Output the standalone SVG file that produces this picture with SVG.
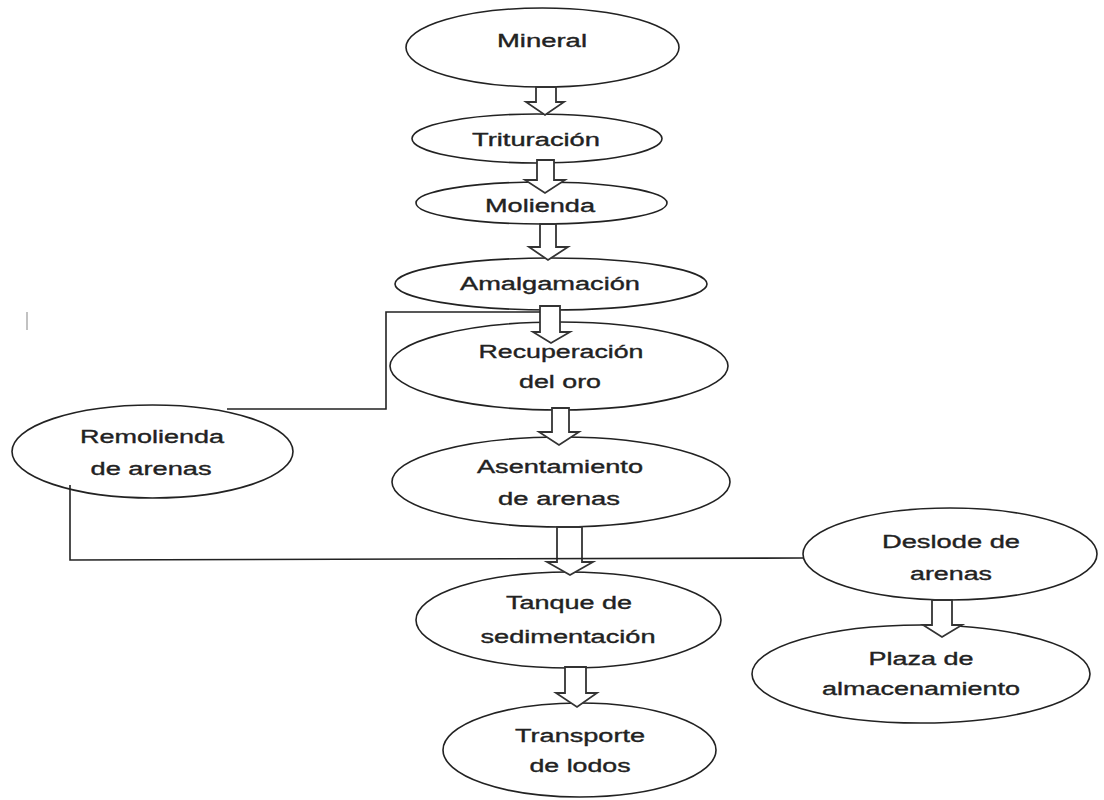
<svg xmlns="http://www.w3.org/2000/svg" width="1104" height="800" viewBox="0 0 1104 800">
<style>
.n ellipse{fill:#fff;stroke:#222;stroke-width:1.6}
.n text{font-family:"Liberation Sans",Arial,sans-serif;font-size:18px;fill:#222;stroke:#222;stroke-width:0.35;text-anchor:middle}
.ar{fill:#fff;stroke:#333;stroke-width:1.8;stroke-linejoin:miter}
.ln{fill:none;stroke:#222;stroke-width:1.6}
</style>
<rect width="1104" height="800" fill="#fff"/>
<line x1="27" y1="312" x2="27" y2="330" stroke="#999" stroke-width="1.2"/>

<g id="n-mineral" class="n"><ellipse cx="542.5" cy="47.5" rx="136.5" ry="39.5"/><text x="542" y="47" textLength="90" lengthAdjust="spacingAndGlyphs">Mineral</text></g>
<g id="n-trituracion" class="n"><ellipse cx="537" cy="138.5" rx="125" ry="24.5"/><text x="536" y="146" textLength="128" lengthAdjust="spacingAndGlyphs">Trituración</text></g>
<g id="n-molienda" class="n"><ellipse cx="541.5" cy="203" rx="125.5" ry="21"/><text x="540" y="212" textLength="110" lengthAdjust="spacingAndGlyphs">Molienda</text></g>
<g id="n-amalgamacion" class="n"><ellipse cx="551" cy="284" rx="156" ry="26"/><text x="550" y="290" textLength="180" lengthAdjust="spacingAndGlyphs">Amalgamación</text></g>
<g id="n-recuperacion" class="n"><ellipse cx="559" cy="366" rx="169" ry="44"/><text x="561" y="358" textLength="165" lengthAdjust="spacingAndGlyphs">Recuperación</text><text x="560" y="388" textLength="82" lengthAdjust="spacingAndGlyphs">del oro</text></g>
<g id="n-remolienda" class="n"><ellipse cx="152.5" cy="451.5" rx="140.5" ry="46.5"/><text x="152" y="443" textLength="144" lengthAdjust="spacingAndGlyphs">Remolienda</text><text x="151" y="475" textLength="121" lengthAdjust="spacingAndGlyphs">de arenas</text></g>
<g id="n-asentamiento" class="n"><ellipse cx="561" cy="482" rx="169" ry="45"/><text x="560" y="473" textLength="166" lengthAdjust="spacingAndGlyphs">Asentamiento</text><text x="559" y="505" textLength="122" lengthAdjust="spacingAndGlyphs">de arenas</text></g>
<g id="n-tanque" class="n"><ellipse cx="568.5" cy="620" rx="152.5" ry="48"/><text x="569" y="609" textLength="126" lengthAdjust="spacingAndGlyphs">Tanque de</text><text x="568" y="643" textLength="175" lengthAdjust="spacingAndGlyphs">sedimentación</text></g>
<g id="n-transporte" class="n"><ellipse cx="579.5" cy="750" rx="136.5" ry="47"/><text x="580" y="742" textLength="130" lengthAdjust="spacingAndGlyphs">Transporte</text><text x="580" y="772" textLength="101" lengthAdjust="spacingAndGlyphs">de lodos</text></g>
<g id="n-deslode" class="n"><ellipse cx="950" cy="554" rx="147" ry="46"/><text x="951" y="548" textLength="138" lengthAdjust="spacingAndGlyphs">Deslode de</text><text x="951" y="580" textLength="82" lengthAdjust="spacingAndGlyphs">arenas</text></g>
<g id="n-plaza" class="n"><ellipse cx="921" cy="674" rx="169" ry="49"/><text x="921" y="665" textLength="105" lengthAdjust="spacingAndGlyphs">Plaza de</text><text x="921" y="695" textLength="198" lengthAdjust="spacingAndGlyphs">almacenamiento</text></g>

<g id="connectors">
<polygon class="ar" points="536,87 556,87 556,102 564,102 545,115 526,102 536,102"/>
<polygon class="ar" points="537,160 554,160 554,180 565,180 545,193 525,180 537,180"/>
<polygon class="ar" points="540,224 556,224 556,247 568,247 548,260 529,247 540,247"/>
<polygon class="ar" points="540,306 560,306 560,332 570,332 551,343 533,332 540,332"/>
<polygon class="ar" points="552,408 569,408 569,432 579,432 559,445 539,432 552,432"/>
<polygon class="ar" points="557,527 582,527 582,562 593,562 570,575 547,562 557,562"/>
<polygon class="ar" points="565,667 586,667 586,693 597,693 577,707 556,693 565,693"/>
<polygon class="ar" points="932,600 952,600 952,625 962,625 942,637 923,625 932,625"/>
<polyline class="ln" points="227,409 386,409 386,312 540,312"/>
<polyline class="ln" points="70,485 70,560 803,558"/>
</g>
</svg>
